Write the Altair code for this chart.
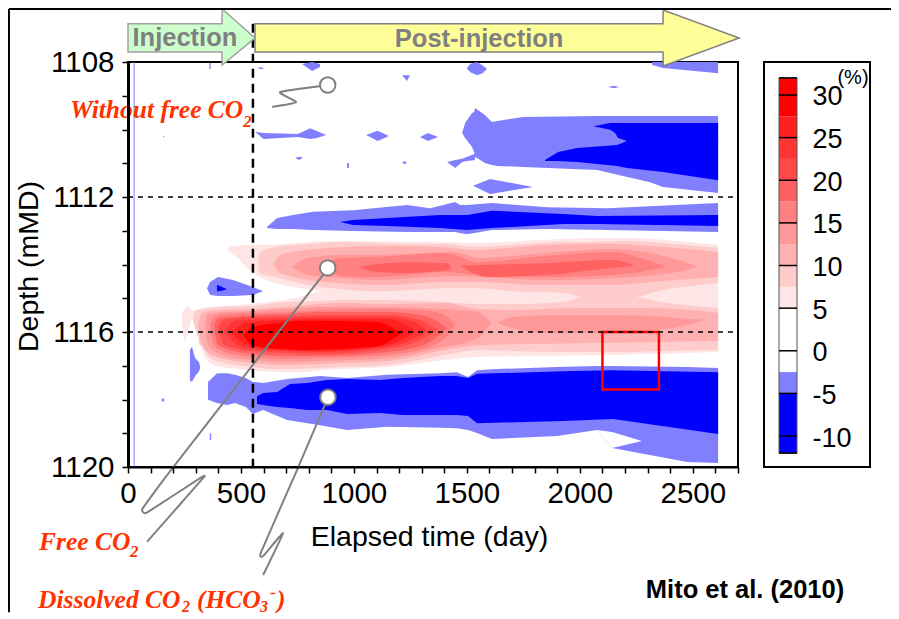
import altair as alt
import pandas as pd

FONT = "Liberation Sans"
SERIF = "Liberation Serif"
ORANGE = "#ff3300"
GREY = "#808080"

LEVELS = ["w", "-2.5", "-5", "5", "7.5", "10", "12.5", "15", "17.5", "20", "22.5", "25", "27.5"]
COLORS = ["#ffffff", "#8080ff", "#0000ff", "#ffe6e6", "#ffcccc", "#ffb0b0", "#ff9898",
          "#ff8080", "#ff6060", "#ff4848", "#ff3535", "#ff2020", "#ff0000"]

# contour bands: (elapsed day, upper depth, lower depth)
up5 = [(438,1113.57,1113.57),(460,1113.45,1113.69),(487,1113.45,1113.81),(527,1113.42,1114.10),(575,1113.42,1114.34),(761,1113.36,1114.70),(859,1113.30,1114.81),(939,1113.30,1114.99),(1381,1113.33,1114.99),(1549,1113.36,1114.99),(1846,1113.27,1114.99),(2143,1113.21,1114.99),(2612,1113.42,1114.99)]
low5 = [(239,1115.41,1115.79),(252,1115.32,1116.30),(266,1115.23,1116.30),(283,1115.38,1116.30),(314,1115.32,1116.30),(336,1115.29,1116.68),(363,1115.26,1116.92),(407,1115.23,1117.04),(496,1115.20,1117.10),(584,1115.14,1117.16),(761,1114.96,1117.19),(859,1114.79,1117.13),(1147,1114.79,1117.04),(1403,1114.79,1116.83),(1549,1114.79,1116.74),(1846,1114.79,1116.71),(2143,1114.79,1116.68),(2612,1114.79,1116.59)]
up75 = [(575,1113.93,1113.93),(584,1113.63,1114.25),(651,1113.48,1114.37),(797,1113.39,1114.61),(947,1113.33,1114.73),(1093,1113.36,1114.79),(1240,1113.39,1114.76),(1403,1113.39,1114.70),(1549,1113.48,1114.70),(1700,1113.42,1114.79),(1921,1113.33,1114.84),(2036,1113.33,1114.99),(2209,1113.30,1114.99),(2364,1113.36,1114.76),(2612,1113.51,1114.55)]
low75 = [(283,1115.79,1115.79),(297,1115.38,1116.24),(332,1115.32,1116.47),(363,1115.29,1116.77),(429,1115.26,1116.92),(553,1115.23,1117.04),(651,1115.14,1117.10),(850,1115.08,1117.07),(947,1115.05,1117.04),(1093,1115.05,1117.01),(1147,1115.05,1116.98),(1403,1115.11,1116.68),(1549,1115.17,1116.53),(1700,1115.17,1116.56),(1921,1115.11,1116.59),(2036,1114.93,1116.59),(2209,1114.93,1116.59),(2364,1115.11,1116.56),(2612,1115.29,1116.53)]
up10 = [(642,1114.01,1114.01),(673,1113.72,1114.25),(730,1113.63,1114.37),(881,1113.51,1114.52),(1147,1113.45,1114.61),(1381,1113.48,1114.52),(1549,1113.57,1114.52),(1846,1113.42,1114.61),(2143,1113.39,1114.61),(2364,1113.48,1114.49),(2612,1113.63,1114.37)]
up125 = [(726,1114.07,1114.07),(797,1113.81,1114.31),(947,1113.72,1114.40),(1093,1113.72,1114.46),(1448,1113.63,1114.34),(1549,1113.81,1114.37),(1846,1113.66,1114.46),(2143,1113.54,1114.40),(2435,1113.87,1114.22),(2523,1114.07,1114.07)]
up15 = [(859,1114.07,1114.07),(947,1113.81,1114.34),(1093,1113.78,1114.37),(1403,1113.66,1114.22),(1549,1113.93,1114.31),(1846,1113.75,1114.37),(2143,1113.63,1114.31),(2267,1113.81,1114.22),(2386,1114.07,1114.07)]
up175a = [(1027,1114.07,1114.07),(1093,1113.99,1114.22),(1240,1113.93,1114.25),(1417,1113.96,1114.16),(1430,1114.07,1114.07)]
up175b = [(1470,1114.04,1114.04),(1594,1114.01,1114.37),(1846,1113.96,1114.31),(2143,1113.87,1114.10),(2244,1114.04,1114.04)]
low10 = [(310,1115.79,1115.79),(328,1115.44,1116.39),(363,1115.38,1116.65),(429,1115.35,1116.80),(553,1115.32,1116.92),(704,1115.26,1116.98),(850,1115.17,1116.95),(947,1115.14,1116.92),(1147,1115.17,1116.86),(1403,1115.14,1116.53),(1549,1115.32,1116.39),(1700,1115.35,1116.36),(2001,1115.29,1116.33),(2289,1115.29,1116.30),(2585,1115.41,1116.27),(2612,1115.44,1116.27)]
low125 = [(341,1115.79,1115.79),(354,1115.47,1116.39),(429,1115.41,1116.71),(553,1115.38,1116.83),(704,1115.32,1116.89),(850,1115.26,1116.86),(1147,1115.26,1116.77),(1381,1115.32,1116.47),(1549,1115.41,1116.18),(1607,1115.73,1115.73)]
low125b = [(1634,1115.73,1115.73),(1700,1115.56,1115.88),(1846,1115.50,1116.03),(2143,1115.50,1116.03),(2333,1115.53,1115.94),(2435,1115.59,1115.85),(2554,1115.64,1115.64)]
low15 = [(363,1115.79,1115.79),(381,1115.53,1116.39),(429,1115.47,1116.59),(553,1115.44,1116.74),(704,1115.41,1116.80),(850,1115.35,1116.77),(1147,1115.32,1116.68),(1337,1115.38,1116.44),(1403,1115.50,1116.18),(1448,1115.79,1115.79)]
low175 = [(381,1115.79,1115.79),(398,1115.59,1116.39),(553,1115.50,1116.65),(704,1115.47,1116.71),(850,1115.41,1116.71),(1147,1115.41,1116.59),(1315,1115.53,1116.36),(1412,1115.88,1115.88)]
low20 = [(398,1115.85,1115.85),(429,1115.62,1116.39),(553,1115.56,1116.56),(704,1115.53,1116.62),(850,1115.50,1116.65),(1147,1115.50,1116.50),(1293,1115.64,1116.24),(1368,1115.94,1115.94)]
low225 = [(429,1115.97,1115.97),(474,1115.67,1116.33),(553,1115.64,1116.50),(704,1115.59,1116.56),(850,1115.56,1116.59),(1147,1115.56,1116.44),(1271,1115.70,1116.18),(1324,1115.97,1115.97)]
low25 = [(460,1116.03,1116.03),(518,1115.73,1116.36),(629,1115.67,1116.50),(850,1115.62,1116.56),(1147,1115.62,1116.39),(1226,1115.76,1116.18),(1271,1115.97,1115.97)]
low275 = [(509,1116.09,1116.09),(553,1115.85,1116.39),(673,1115.73,1116.50),(797,1115.67,1116.53),(1093,1115.70,1116.44),(1213,1116.03,1116.03)]
wedge = [(252,1116.30,1116.30),(283,1115.59,1116.39),(314,1116.24,1116.39)]

blue_low = [(354,1117.48,1118.01),(394,1117.22,1118.10),(438,1117.22,1118.16),(474,1117.27,1118.10),(522,1117.36,1118.22),(553,1117.48,1118.43),(598,1117.51,1118.31),(704,1117.39,1118.61),(850,1117.30,1118.76),(970,1117.36,1118.90),(1147,1117.27,1118.81),(1381,1117.22,1118.84),(1456,1117.19,1118.85),(1505,1117.33,1118.90),(1545,1117.13,1118.99),(1611,1117.10,1119.17),(1899,1117.04,1119.08),(2076,1117.01,1118.90),(2143,1117.01,1119.44),(2475,1117.04,1119.85),(2612,1117.07,1119.88)]
notch = [(2076,1118.90,1118.90),(2143,1118.96,1119.44),(2275,1119.23,1119.23)]
dark_low = [(571,1117.90,1118.13),(598,1117.81,1118.16),(660,1117.78,1118.22),(717,1117.54,1118.25),(792,1117.51,1118.31),(881,1117.42,1118.31),(970,1117.39,1118.43),(1116,1117.42,1118.40),(1217,1117.36,1118.46),(1381,1117.30,1118.46),(1456,1117.30,1118.46),(1505,1117.36,1118.49),(1545,1117.24,1118.70),(1926,1117.16,1118.64),(2147,1117.13,1118.58),(2612,1117.19,1119.02)]
blue_mid = [(615,1112.89,1112.92),(660,1112.62,1112.95),(730,1112.53,1112.95),(819,1112.44,1112.98),(996,1112.39,1113.01),(1235,1112.24,1113.04),(1337,1112.33,1113.04),(1448,1112.15,1113.04),(1470,1112.24,1113.07),(1501,1112.24,1113.10),(1611,1112.18,1112.98),(1855,1112.30,1112.95),(2121,1112.33,1112.98),(2612,1112.18,1113.04)]
dark_mid = [(939,1112.74,1112.74),(996,1112.68,1112.83),(1147,1112.62,1112.86),(1381,1112.53,1112.92),(1501,1112.53,1112.98),(1611,1112.41,1112.92),(1926,1112.50,1112.80),(2076,1112.56,1112.80),(2612,1112.53,1112.86)]
blue_up = [(1479,1110.10,1110.10),(1492,1109.81,1110.25),(1523,1109.51,1110.52),(1532,1109.48,1110.67),(1536,1109.36,1110.81),(1580,1109.57,1110.99),(1611,1109.78,1111.05),(1634,1109.75,1111.08),(1749,1109.63,1111.11),(2076,1109.60,1111.20),(2311,1109.60,1111.56),(2368,1109.60,1111.70),(2612,1109.60,1111.88)]
blue_up_tail = [(1412,1110.96,1110.96),(1448,1110.90,1111.14),(1479,1110.87,1110.96),(1501,1110.81,1110.93),(1536,1110.72,1110.90)]
dark_up_a = [(2059,1109.90,1109.90),(2134,1109.81,1110.01),(2156,1109.81,1110.10),(2169,1109.81,1110.25),(2209,1109.81,1110.34),(2612,1109.81,1110.40)]
dark_up_b = [(1846,1110.90,1110.93),(1904,1110.67,1110.93),(1988,1110.55,1110.96),(2165,1110.46,1111.08),(2209,1110.34,1111.14),(2368,1110.34,1111.26),(2612,1110.34,1111.50)]
lens_a = [(1527,1111.67,1111.67),(1603,1111.47,1111.91),(1793,1111.70,1111.70)]
spot1 = [(770,1108.06,1108.06),(815,1108.00,1108.27),(850,1108.06,1108.15)]
spot2 = [(571,1108.18,1108.18),(590,1108.15,1108.21),(602,1108.20,1108.20)]
spot3 = [(360,1108.02,1108.21),(366,1108.02,1108.21)]
spot4 = [(1213,1108.39,1108.39),(1235,1108.39,1108.56),(1248,1108.39,1108.39)]
spot5 = [(562,1110.07,1110.07),(600,1110.10,1110.28),(752,1110.13,1110.22),(806,1109.96,1110.28),(837,1110.05,1110.25),(877,1110.16,1110.16)]
spot6 = [(1054,1110.16,1110.16),(1105,1110.04,1110.34),(1155,1110.19,1110.19)]
spot7 = [(1293,1110.22,1110.22),(1328,1110.10,1110.34),(1372,1110.22,1110.22)]
spot8 = [(739,1110.84,1110.84),(757,1110.81,1110.90),(775,1110.84,1110.84)]
spot9 = [(970,1110.99,1111.14),(978,1110.99,1111.14)]
spot10 = [(1213,1110.99,1110.99),(1225,1110.93,1111.02),(1235,1110.99,1110.99)]
spot11 = [(155,1110.19,1110.22),(160,1110.19,1110.22)]
spot12 = [(1501,1108.18,1108.20),(1515,1108.05,1108.30),(1545,1108.00,1108.39),(1570,1108.10,1108.33),(1589,1108.20,1108.20)]
spot13 = [(2125,1108.74,1108.74),(2150,1108.70,1108.78),(2174,1108.74,1108.74)]
spot14 = [(2320,1108.00,1108.09),(2368,1108.00,1108.18),(2612,1108.00,1108.33)]
spot15 = [(350,1114.70,1114.70),(363,1114.52,1114.90),(398,1114.37,1114.93),(465,1114.46,1114.93),(553,1114.67,1114.90),(598,1114.79,1114.79)]
spot15d = [(394,1114.61,1114.79),(407,1114.64,1114.79),(438,1114.73,1114.73)]
spot16 = [(274,1116.53,1117.42),(283,1116.44,1117.48),(297,1116.77,1117.30),(314,1116.89,1117.18),(319,1117.01,1117.07)]
spot17 = [(150,1117.97,1118.06),(160,1117.97,1118.06)]
spot18 = [(362,1119.00,1119.20),(368,1119.00,1119.20)]

SMOOTH_BANDS = [
    ("5", up5), ("5", low5), ("7.5", up75), ("7.5", low75), ("10", up10), ("10", low10),
    ("12.5", up125), ("12.5", low125), ("12.5", low125b), ("15", up15), ("15", low15),
    ("17.5", up175a), ("17.5", up175b), ("17.5", low175), ("20", low20), ("22.5", low225),
    ("25", low25), ("27.5", low275),
]
SHARP_BANDS = [
    ("w", wedge),
    ("-2.5", blue_low), ("w", notch), ("-5", dark_low), ("-2.5", blue_mid), ("-5", dark_mid),
    ("-2.5", blue_up), ("-2.5", blue_up_tail), ("-5", dark_up_a), ("-5", dark_up_b), ("-2.5", lens_a),
    ("-2.5", spot1), ("-2.5", spot2), ("-2.5", spot3), ("-2.5", spot4), ("-2.5", spot5), ("-2.5", spot6),
    ("-2.5", spot7), ("-2.5", spot8), ("-2.5", spot9), ("-2.5", spot10), ("-2.5", spot11), ("-2.5", spot12),
    ("-2.5", spot13), ("-2.5", spot14), ("-2.5", spot15), ("-5", spot15d), ("-2.5", spot16),
    ("-2.5", spot17), ("-2.5", spot18),
]


def band_table(bands):
    rows = []
    for i, (lev, pts) in enumerate(bands):
        for x, t, b in pts:
            rows.append(dict(shape=f"s{i:02d}", level=lev, x=x, top=t, bot=b))
    return pd.DataFrame(rows)


# axis and annotation values
X_TICKS = list(range(0, 2701, 100))
Y_TICKS = list(range(1108, 1121))
red_box = [dict(x=2100, x2=2350, y=1116.0, y2=1117.7)]
green_arrow = [(0,1106.87,1107.70),(416,1106.87,1107.70),(417,1106.43,1108.09),(562,1107.29,1107.29)]
yellow_arrow = [(562,1106.87,1107.70),(2368,1106.87,1107.70),(2369,1106.46,1108.12),(2705,1107.29,1107.29)]
call_a = [(885,1108.68),(673,1108.89),(744,1109.19),(637,1109.33)]
call_b = [(881,1114.16),(190,1120.09),(75,1121.13),(62,1121.27),(70,1121.36),(89,1121.33),(319,1120.33),(332,1120.33),(84,1122.22)]
call_c = [(881,1118.01),(748,1120.09),(589,1122.52),(598,1122.64),(686,1121.96),(598,1123.20)]
circles = [dict(x=884, y=1108.68), dict(x=884, y=1114.10), dict(x=885, y=1117.93)]

X = alt.Scale(domain=[0, 2700], nice=False, zero=False)
Y = alt.Scale(domain=[1108, 1120], reverse=True, nice=False, zero=False)
X_AXIS = alt.Axis(
    values=X_TICKS, labelExpr="datum.value % 500 == 0 ? format(datum.value, 'd') : ''",
    grid=False, domainColor="black", domainWidth=2, tickColor="black", tickWidth=1.5, tickSize=6,
    labelFont=FONT, labelFontSize=29.5, labelColor="black", labelPadding=6, labelOverlap=False,
    labelFlush=False, titleFont=FONT, titleFontSize=28.5, titleFontWeight="normal", titleColor="black",
    titleX=301, titleY=69, titleBaseline="middle", zindex=1)
Y_AXIS = alt.Axis(
    values=Y_TICKS, labelExpr="(datum.value - 1108) % 4 == 0 ? format(datum.value, 'd') : ''",
    grid=False, domainColor="black", domainWidth=3, tickColor="black", tickWidth=1.5, tickSize=6,
    labelFont=FONT, labelFontSize=29.5, labelColor="black", labelPadding=8, labelOverlap=False,
    titleFont=FONT, titleFontSize=28.5, titleFontWeight="normal", titleColor="black",
    titleX=-100, titleY=204, titleBaseline="middle", zindex=1)
ex = alt.X("x:Q", scale=X, title="Elapsed time (day)", axis=X_AXIS)
ey = alt.Y("y:Q", scale=Y, title="Depth (mMD)", axis=Y_AXIS, stack=None)


def area_layer(bands, interp):
    return alt.Chart(band_table(bands)).mark_area(interpolate=interp, clip=False).encode(
        x=ex,
        y=alt.Y("top:Q", scale=Y, title="Depth (mMD)", stack=None, axis=Y_AXIS),
        y2="bot:Q",
        detail="shape:N",
        color=alt.Color("level:N", scale=alt.Scale(domain=LEVELS, range=COLORS), legend=None),
    )


def rule(rec, **kw):
    return alt.Chart(pd.DataFrame([rec])).mark_rule(**kw)


blue_line = rule({"x": 27, "y": 1108, "y2": 1120}, color="#8080ff", strokeWidth=1).encode(ex, ey, y2="y2:Q")
dash_v = rule({"x": 553, "y": 1106.87, "y2": 1120}, color="black", strokeWidth=2.5, strokeDash=[9, 6]).encode(ex, ey, y2="y2:Q")
dash_h = alt.Chart(pd.DataFrame({"x": [0, 0], "x2": [2700, 2700], "y": [1112, 1116]})).mark_rule(
    color="black", strokeWidth=1.3, strokeDash=[5, 5]).encode(ex, ey, x2="x2:Q")
box = alt.Chart(pd.DataFrame(red_box)).mark_rect(filled=False, stroke="#ff0000", strokeWidth=2.5).encode(
    ex, ey, x2="x2:Q", y2="y2:Q")


def arrow(pts, fill, stroke):
    d = pd.DataFrame(pts, columns=["x", "y", "y2"])
    return alt.Chart(d).mark_area(fill=fill, stroke=stroke, strokeWidth=1.5, interpolate="linear").encode(
        ex, ey, y2="y2:Q")


def callout(pts):
    d = pd.DataFrame(pts, columns=["x", "y"]).reset_index()
    return alt.Chart(d).mark_line(color=GREY, strokeWidth=2, interpolate="cardinal", tension=0.6).encode(
        ex, ey, order="index:Q")


dots = alt.Chart(pd.DataFrame(circles)).mark_point(
    filled=True, fill="white", stroke=GREY, strokeWidth=2, size=240, opacity=1, shape="circle").encode(ex, ey)


def label(txt, x, y, size, align="left", color=ORANGE, font=SERIF, style="italic", weight="bold"):
    return alt.Chart(pd.DataFrame({"x": [x], "y": [y], "t": [txt]})).mark_text(
        align=align, baseline="middle", font=font, fontSize=size, fontStyle=style, fontWeight=weight, color=color
    ).encode(ex, ey, text="t:N")


texts = [
    label("Injection", 252, 1107.29, 25.5, "center", GREY, FONT, "normal"),
    label("Post-injection", 1554, 1107.32, 25.5, "center", GREY, FONT, "normal"),
    label("Mito et al. (2010)", 2731, 1123.64, 25.5, "center", "black", FONT, "normal"),
    label("Without free CO", -257, 1109.42, 25.5),
    label("2", 510, 1109.78, 17),
    label("Free CO", -394, 1122.22, 25.5),
    label("2", 9, 1122.52, 17),
    label("Dissolved CO", -398, 1123.94, 25.5),
    label("2", 239, 1124.14, 16),
    label("(HCO", 305, 1123.94, 25.5),
    label("3", 584, 1124.14, 16),
    label("-", 629, 1123.74, 17),
    label(")", 660, 1123.94, 25.5),
]

frame_top = rule({"x": -527, "x2": 3378, "y": 1106.43}, color="black", strokeWidth=2).encode(ex, ey, x2="x2:Q")
frame_left = rule({"x": -527, "y": 1106.43, "y2": 1124.3}, color="black", strokeWidth=2).encode(ex, ey, y2="y2:Q")

main = alt.layer(
    area_layer(SMOOTH_BANDS, "monotone"), area_layer(SHARP_BANDS, "linear"),
    blue_line, box, dash_h, callout(call_a), callout(call_b), callout(call_c), dash_v, dots,
    arrow(yellow_arrow, "#ffff99", GREY), arrow(green_arrow, "#ccffcc", "#a0a0a0"),
    frame_top, frame_left, *texts,
).properties(width=610, height=405)

# colour bar
CELL_LOW = [-12, -5, -2.5, 5, 7.5, 10, 12.5, 15, 17.5, 20, 22.5, 25, 27.5, 30]
CELL_HIGH = [-5, -2.5, 5, 7.5, 10, 12.5, 15, 17.5, 20, 22.5, 25, 27.5, 30, 32]
CELL_COLOR = ["#0000ff", "#8080ff", "#ffffff", "#ffe6e6", "#ffcccc", "#ffb0b0", "#ff9898", "#ff8080",
              "#ff6060", "#ff4848", "#ff3535", "#ff2020", "#ff0000", "#ff0000"]
BAR_TICKS = [-12, -10, -5, 0, 5, 10, 15, 20, 25, 30, 32]
LABEL_TICKS = [-10, -5, 0, 5, 10, 15, 20, 25, 30]
V = alt.Scale(domain=[-13.63, 33.87], nice=False, zero=False)
V_AXIS = alt.Axis(
    orient="right", offset=-73, values=LABEL_TICKS, tickSize=0, domain=False, grid=False, labelPadding=15,
    labelFont=FONT, labelFontSize=27, labelColor="black", labelOverlap=False, ticks=False,
    labelExpr="'' + datum.value", labelOffset=2, labelAlign="left")

cells = alt.Chart(pd.DataFrame({"lo": CELL_LOW, "hi": CELL_HIGH, "c": CELL_COLOR})).mark_rect().encode(
    x=alt.value(15), x2=alt.value(33),
    y=alt.Y("lo:Q", scale=V, title=None, axis=V_AXIS),
    y2="hi:Q",
    color=alt.Color("c:N", scale=None),
)
bar_edge = alt.Chart(pd.DataFrame({"lo": [-12], "hi": [32]})).mark_rect(filled=False, stroke="#555555", strokeWidth=1).encode(
    x=alt.value(15), x2=alt.value(33), y=alt.Y("lo:Q", scale=V, title=None, axis=V_AXIS), y2="hi:Q")
bar_ticks = alt.Chart(pd.DataFrame({"v": BAR_TICKS})).mark_rule(color="black", strokeWidth=1.5).encode(
    x=alt.value(15), x2=alt.value(33), y=alt.Y("v:Q", scale=V, title=None, axis=V_AXIS))
unit = alt.Chart(pd.DataFrame({"v": [32.0], "t": ["(%)"]})).mark_text(
    font=FONT, fontSize=20, color="black", align="center", baseline="middle").encode(
    x=alt.value(89), y=alt.Y("v:Q", scale=V, title=None, axis=V_AXIS), text="t:N")
legend = alt.layer(cells, bar_edge, bar_ticks, unit).properties(width=106, height=405)

chart = alt.hconcat(main, legend, spacing=26, bounds="flush").properties(
    autosize=alt.AutoSizeParams(type="none"),
    padding={"left": 120, "top": 54, "right": 763, "bottom": 549},
    background="white",
).configure_view(stroke="black", strokeWidth=2)

chart.save("out.html", embed_options={"renderer": "svg", "actions": False})
